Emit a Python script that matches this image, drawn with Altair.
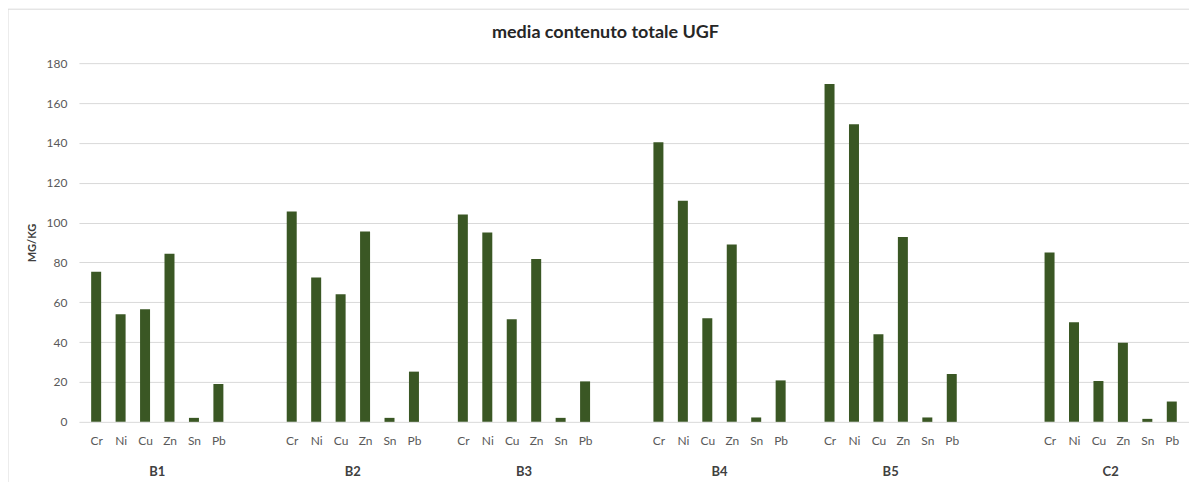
import altair as alt
import pandas as pd
import json

# ---- data ----
groups = ["B1", "B2", "B3", "B4", "B5", "C2"]
elements = ["Cr", "Ni", "Cu", "Zn", "Sn", "Pb"]
B1 = [75.3, 54.0, 56.5, 84.3, 2.0, 19.0]
B2 = [105.5, 72.5, 64.0, 95.5, 2.0, 25.2]
B3 = [104.0, 95.0, 51.5, 81.7, 2.0, 20.3]
B4 = [140.3, 111.0, 52.0, 89.0, 2.2, 20.8]
B5 = [169.5, 149.3, 44.0, 92.7, 2.2, 24.0]
C2 = [85.0, 50.0, 20.5, 39.7, 1.5, 10.2]
series = [B1, B2, B3, B4, B5, C2]
# empty category slots between consecutive groups (as in the source sheet)
blank_slots_after = [2, 1, 2, 1, 3]

title_text = "media contenuto totale UGF"
y_title = "MG/KG"
y_ticks = [0, 20, 40, 60, 80, 100, 120, 140, 160, 180]

# ---- build table ----
rows = []
slot = 0
slot_names = []
for gi, (g, vals) in enumerate(zip(groups, series)):
    for e, v in zip(elements, vals):
        rows.append({"group": g, "element": e, "value": v, "slot": slot + 0.5})
        slot_names.append(e)
        slot += 1
    if gi < len(blank_slots_after):
        for _ in range(blank_slots_after[gi]):
            slot_names.append("")
            slot += 1
n_slots = slot
df = pd.DataFrame(rows)
gdf = df.groupby("group", as_index=False)["slot"].mean()

W, H = 1111, 359
GREEN = "#3a5724"
FONT = "Lato"

label_expr = json.dumps(slot_names) + "[floor(datum.value)]"
x_axis = alt.Axis(
    values=[float(v) for v in df["slot"]],
    labelExpr=label_expr, labelOverlap=False, labelFlush=False,
    grid=False, ticks=False, domain=False,
    labelPadding=14, labelFontSize=12, labelColor="#595959", labelFont=FONT,
    title=None,
)
x_scale = alt.Scale(domain=[0, n_slots], nice=False, zero=False)

bars = alt.Chart(df).mark_bar(size=10, color=GREEN).encode(
    x=alt.X("slot:Q", scale=x_scale, axis=x_axis),
    y=alt.Y(
        "value:Q",
        scale=alt.Scale(domain=[0, 180], nice=False),
        axis=alt.Axis(
            values=y_ticks, grid=True, gridColor="#d9d9d9", ticks=False, domain=False,
            labelPadding=12, labelFontSize=12, labelColor="#595959", labelFont=FONT,
            title=y_title, titleFont=FONT, titleFontSize=11, titleFontWeight="bold",
            titleColor="#404040", titleX=-46, titleY=H / 2, titleAngle=-90,
            titleAlign="center", titleBaseline="middle",
        ),
    ),
)

group_labels = alt.Chart(gdf).mark_text(
    font=FONT, fontSize=13, fontWeight="bold", color="#404040", baseline="middle"
).encode(
    x=alt.X("slot:Q", scale=x_scale, axis=x_axis),
    y=alt.value(H + 50),
    text="group:N",
)

title_df = pd.DataFrame({"t": [title_text]})
title_mark = alt.Chart(title_df).mark_text(
    font=FONT, fontSize=18, fontWeight="bold", color="#262626",
    align="center", baseline="middle",
).encode(
    x=alt.value(527), y=alt.value(-30), text="t:N"
)

frame_df = pd.DataFrame({"k": [0]})
top_border = alt.Chart(frame_df).mark_rule(color="#d9d9d9", strokeWidth=1).encode(
    x=alt.value(-71), x2=alt.value(W + 40), y=alt.value(-54)
)
left_border = alt.Chart(frame_df).mark_rule(color="#d9d9d9", strokeWidth=1).encode(
    x=alt.value(-71), y=alt.value(-54), y2=alt.value(H + 80)
)

chart = alt.layer(top_border, left_border, bars, group_labels, title_mark).properties(
    width=W,
    height=H,
    autosize=alt.AutoSizeParams(type="none"),
    padding={"left": 71, "top": 55, "right": 0, "bottom": 60},
).configure_view(stroke=None).configure_axisX(labelOverlap=False)

chart.save("out.html", embed_options={"renderer": "svg", "actions": False})
